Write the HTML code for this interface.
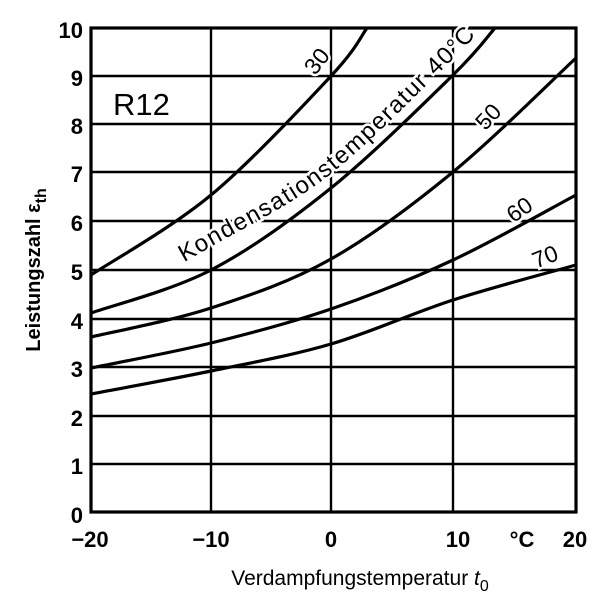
<!DOCTYPE html>
<html><head><meta charset="utf-8"><style>
html,body{margin:0;padding:0;background:#fff}
svg{display:block}
text{font-family:"Liberation Sans",sans-serif;fill:#000}
</style></head><body>
<svg id="s" width="600" height="605" viewBox="0 0 600 605" xmlns="http://www.w3.org/2000/svg">
<g stroke="#000" stroke-width="2.4" fill="none">
<line x1="91" y1="464" x2="576" y2="464"/>
<line x1="91" y1="416" x2="576" y2="416"/>
<line x1="91" y1="367" x2="576" y2="367"/>
<line x1="91" y1="319" x2="576" y2="319"/>
<line x1="91" y1="270" x2="576" y2="270"/>
<line x1="91" y1="221" x2="576" y2="221"/>
<line x1="91" y1="172" x2="576" y2="172"/>
<line x1="91" y1="124" x2="576" y2="124"/>
<line x1="91" y1="76" x2="576" y2="76"/>
<line x1="211" y1="28" x2="211" y2="512"/>
<line x1="331" y1="28" x2="331" y2="512"/>
<line x1="453" y1="28" x2="453" y2="512"/>
<rect x="91" y="28" width="485" height="484" stroke-width="3.2"/>
</g>
<g id="curves" stroke="#000" stroke-width="3.2" fill="none"></g>
<defs><path id="kp" d=""/></defs>
<text font-size="24"><textPath href="#kp" id="ktp" style="paint-order:stroke" stroke="#fff" stroke-width="5">Kondensationstemperatur 40°C</textPath></text>
<g font-size="23" style="paint-order:stroke" stroke="#fff" stroke-width="5">
<text transform="translate(323,66) rotate(-52)" text-anchor="middle">30</text>
<text transform="translate(494,122) rotate(-47)" text-anchor="middle">50</text>
<text transform="translate(524,216) rotate(-35)" text-anchor="middle">60</text>
<text transform="translate(548,264) rotate(-22)" text-anchor="middle">70</text>
</g>
<text x="113" y="115" font-size="31">R12</text>
<g font-size="22" font-weight="bold" text-anchor="end">
<text x="83" y="38">10</text>
<text x="83" y="86">9</text>
<text x="83" y="134">8</text>
<text x="83" y="182">7</text>
<text x="83" y="231">6</text>
<text x="83" y="280">5</text>
<text x="83" y="329">4</text>
<text x="83" y="377">3</text>
<text x="83" y="426">2</text>
<text x="83" y="474">1</text>
<text x="83" y="523">0</text>
</g>
<g font-size="22" font-weight="bold" text-anchor="middle">
<text x="90" y="547">−20</text>
<text x="211" y="547">−10</text>
<text x="331" y="547">0</text>
<text x="458" y="547">10</text>
<text x="522" y="547">°C</text>
<text x="575" y="547">20</text>
</g>
<text x="360" y="585" font-size="21" text-anchor="middle">Verdampfungstemperatur <tspan font-style="italic">t</tspan><tspan font-size="16" dy="6">0</tspan></text>
<text transform="translate(40,270) rotate(-90)" font-size="20" font-weight="bold" text-anchor="middle">Leistungszahl ε<tspan font-size="16" dy="6">th</tspan></text>
</svg>
<script>
function cr(p){var d="M"+p[0][0]+","+p[0][1];for(var i=0;i<p.length-1;i++){var p0=p[i-1]||p[i],p1=p[i],p2=p[i+1],p3=p[i+2]||p2;
d+=" C"+(p1[0]+(p2[0]-p0[0])/6).toFixed(1)+","+(p1[1]+(p2[1]-p0[1])/6).toFixed(1)+" "+(p2[0]-(p3[0]-p1[0])/6).toFixed(1)+","+(p2[1]-(p3[1]-p1[1])/6).toFixed(1)+" "+p2[0]+","+p2[1];}return d;}
var C=[
[[91,275],[211,195],[331,76],[367,28]],
[[91,313],[211,270],[331,188],[453,75],[495,28]],
[[91,337],[211,308],[331,259],[453,172],[576,58]],
[[91,368],[211,343],[331,309],[453,260],[576,195]],
[[91,394],[211,371],[331,344],[453,300],[576,265]]];
var g=document.getElementById("curves"),ns="http://www.w3.org/2000/svg";
C.forEach(function(p){var e=document.createElementNS(ns,"path");e.setAttribute("d",cr(p));g.appendChild(e);});
var k=[[188,268],[211,255],[331,183],[453,69],[482,38]].map(function(q){return [q[0]-4,q[1]-6];});
var kp=document.getElementById("kp");kp.setAttribute("d",cr(k));
var L=kp.getTotalLength();var t=document.getElementById("ktp");
t.setAttribute("textLength",(L-4).toFixed(1));t.setAttribute("lengthAdjust","spacing");
</script>
</body></html>
